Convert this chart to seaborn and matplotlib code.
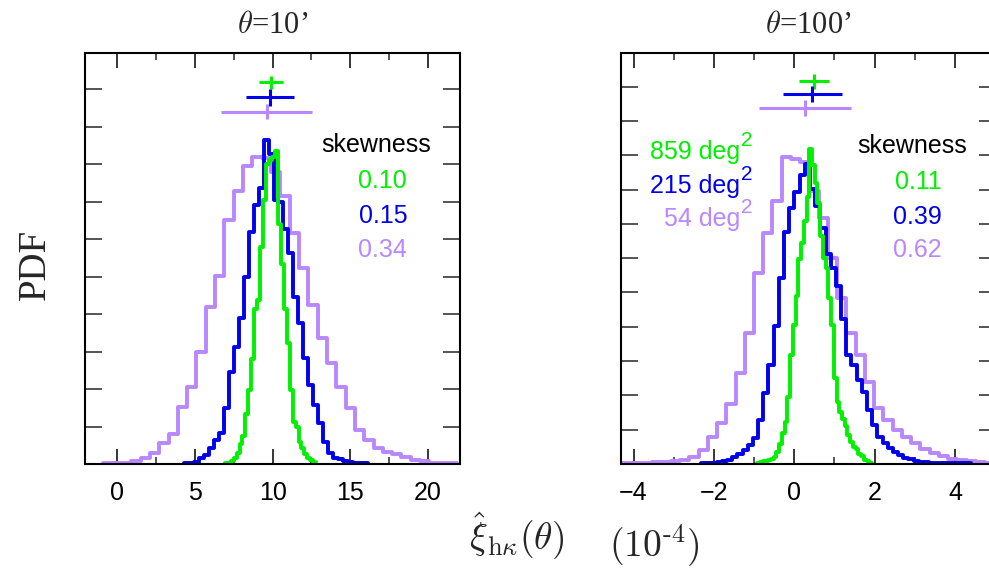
import numpy as np
import pandas as pd
import matplotlib
matplotlib.use("Agg")
import matplotlib.pyplot as plt
import seaborn as sns
from matplotlib.ticker import MultipleLocator

# ---------------------------------------------------------------------------
# Data: binned PDFs of the estimator for three survey areas, two angular scales
# ---------------------------------------------------------------------------
areas = ["859 deg", "215 deg", "54 deg"]
area_unit_power = "2"
area_colors = ["#00f000", "#0000eb", "#b987ff"]

titles = [r"$\theta$=10’", r"$\theta$=100’"]

# theta = 10 arcmin  (x in units of 1e-4)
pdf10_green_start, pdf10_green_width = 6.92, 0.19
pdf10_green = [0.004, 0.004, 0.008, 0.016, 0.029, 0.053, 0.075, 0.133, 0.197, 0.280,
               0.413, 0.437, 0.579, 0.704, 0.800, 0.811, 0.819, 0.835, 0.640, 0.533,
               0.413, 0.323, 0.197, 0.112, 0.099, 0.059, 0.043, 0.027, 0.016, 0.011,
               0.005]

pdf10_blue_start, pdf10_blue_width = 4.30, 0.32
pdf10_blue = [0.003, 0.004, 0.006, 0.015, 0.024, 0.042, 0.064, 0.082, 0.149, 0.246,
              0.313, 0.389, 0.499, 0.619, 0.691, 0.737, 0.864, 0.827, 0.704, 0.699,
              0.627, 0.562, 0.446, 0.376, 0.283, 0.211, 0.157, 0.109, 0.059, 0.030,
              0.017, 0.013, 0.007, 0.005, 0.003, 0.003, 0.002]

pdf10_purple_start, pdf10_purple_width = -0.90, 0.60
pdf10_purple = [0.003, 0.003, 0.004, 0.008, 0.017, 0.030, 0.055, 0.079, 0.153, 0.206,
                0.299, 0.419, 0.502, 0.651, 0.729, 0.795, 0.818, 0.815, 0.778, 0.715,
                0.615, 0.522, 0.424, 0.335, 0.269, 0.206, 0.149, 0.091, 0.064, 0.042,
                0.032, 0.027, 0.019, 0.011, 0.007, 0.003, 0.003, 0.003]

# theta = 100 arcmin
pdf100_green_start, pdf100_green_width = -0.92, 0.068
pdf100_green = [0.004, 0.006, 0.009, 0.010, 0.013, 0.015, 0.020, 0.035, 0.058, 0.090,
                0.122, 0.195, 0.317, 0.404, 0.491, 0.599, 0.645, 0.709, 0.779, 0.919,
                0.872, 0.820, 0.762, 0.666, 0.599, 0.570, 0.483, 0.404, 0.250, 0.180,
                0.151, 0.131, 0.110, 0.084, 0.064, 0.049, 0.044, 0.029, 0.023, 0.012,
                0.009, 0.004]

pdf100_blue_start, pdf100_blue_width = -2.319, 0.129
pdf100_blue = [0.002, 0.003, 0.004, 0.006, 0.009, 0.013, 0.020, 0.029, 0.041, 0.055,
               0.076, 0.128, 0.206, 0.288, 0.401, 0.541, 0.677, 0.747, 0.794, 0.843,
               0.875, 0.802, 0.753, 0.689, 0.613, 0.570, 0.520, 0.424, 0.317, 0.288,
               0.244, 0.209, 0.157, 0.113, 0.078, 0.061, 0.047, 0.035, 0.026, 0.017,
               0.014, 0.009, 0.007, 0.006, 0.004, 0.003, 0.003, 0.003, 0.002, 0.002,
               0.002, 0.002]

pdf100_purple_start, pdf100_purple_width = -4.453, 0.23
pdf100_purple = [0.003, 0.003, 0.003, 0.004, 0.006, 0.007, 0.010, 0.013, 0.020, 0.041,
                 0.078, 0.119, 0.174, 0.265, 0.381, 0.558, 0.672, 0.767, 0.894, 0.890,
                 0.880, 0.797, 0.718, 0.599, 0.483, 0.381, 0.317, 0.238, 0.163, 0.128,
                 0.099, 0.078, 0.061, 0.044, 0.032, 0.023, 0.015, 0.012, 0.009, 0.006,
                 0.004, 0.003]

# mean +/- scatter markers (x, xerr) and their heights on the PDF axis
mean10 = [9.92, 9.86, 9.64]
err10 = [0.77, 1.55, 2.93]
mark_y10 = [1.018, 0.978, 0.939]
mark_dy10 = [0.018, 0.023, 0.020]

mean100 = [0.49, 0.45, 0.27]
err100 = [0.38, 0.73, 1.14]
mark_y100 = [1.116, 1.078, 1.037]
mark_dy100 = [0.022, 0.024, 0.023]

skew10 = ["0.10", "0.15", "0.34"]
skew100 = ["0.11", "0.39", "0.62"]

# ---------------------------------------------------------------------------
sns.set_theme(style="ticks")
plt.rcParams["font.family"] = ["Liberation Sans", "DejaVu Sans"]
plt.rcParams["mathtext.fontset"] = "cm"
plt.rcParams["axes.unicode_minus"] = True

W, H = 989, 569
fig = plt.figure(figsize=(W / 100, H / 100), dpi=100)
fig.patch.set_facecolor("white")

ax1 = fig.add_axes([85 / W, 1 - 464 / H, 375 / W, 411 / H])
ax2 = fig.add_axes([620.7 / W, 1 - 464 / H, 375.3 / W, 411 / H])


def draw_pdf(ax, start, width, heights, color):
    heights = np.asarray(heights, dtype=float)
    edges = start + width * np.arange(len(heights) + 1)
    centers = 0.5 * (edges[:-1] + edges[1:])
    df = pd.DataFrame({"x": centers, "pdf": heights})
    sns.histplot(data=df, x="x", weights="pdf", bins=edges.tolist(),
                 element="step", fill=False, color=color, linewidth=2.8, ax=ax)


panels = [
    (ax1,
     [(pdf10_purple_start, pdf10_purple_width, pdf10_purple),
      (pdf10_blue_start, pdf10_blue_width, pdf10_blue),
      (pdf10_green_start, pdf10_green_width, pdf10_green)],
     mean10, err10, mark_y10, mark_dy10),
    (ax2,
     [(pdf100_purple_start, pdf100_purple_width, pdf100_purple),
      (pdf100_blue_start, pdf100_blue_width, pdf100_blue),
      (pdf100_green_start, pdf100_green_width, pdf100_green)],
     mean100, err100, mark_y100, mark_dy100),
]

for ax, hists, means, errs, ys, dys in panels:
    for (start, width, heights), color in zip(hists, area_colors[::-1]):
        draw_pdf(ax, start, width, heights, color)
    for m, e, y, dy, color in zip(means, errs, ys, dys, area_colors):
        ax.errorbar(m, y, xerr=e, yerr=dy, color=color, lw=2.2, capsize=0,
                    fmt="none")

ax1.set_xlim(-2.08, 22.07)
ax1.set_ylim(0, 1.096)
ax1.xaxis.set_major_locator(MultipleLocator(5))
ax1.xaxis.set_minor_locator(MultipleLocator(2.5))

ax2.set_xlim(-4.32, 5.02)
ax2.set_ylim(0, 1.198)
ax2.xaxis.set_major_locator(MultipleLocator(2))
ax2.xaxis.set_minor_locator(MultipleLocator(1))

for ax in (ax1, ax2):
    ax.set_xlabel("")
    ax.set_ylabel("")
    ax.yaxis.set_major_locator(MultipleLocator(0.1))
    ax.tick_params(axis="x", which="major", direction="in", length=11, width=1.1,
                   top=True, bottom=True, pad=12, labelsize=18, colors="black")
    ax.tick_params(axis="x", which="minor", direction="in", length=5, width=1.1,
                   top=True, bottom=True)
    ax.tick_params(axis="y", which="major", direction="in", length=12, width=1.1,
                   left=True, right=True, labelleft=False)
    for sp in ax.spines.values():
        sp.set_linewidth(1.5)
        sp.set_color("black")
    ax.set_facecolor("white")

# skewness annotations
ax1.text(20.18, 0.832, "skewness", ha="right", va="baseline", fontsize=18, color="black")
for s, y, c in zip(skew10, [0.736, 0.643, 0.552], area_colors):
    ax1.text(18.67, y, s, ha="right", va="baseline", fontsize=18, color=c)

ax2.text(4.29, 0.907, "skewness", ha="right", va="baseline", fontsize=18, color="black")
for s, y, c in zip(skew100, [0.802, 0.701, 0.602], area_colors):
    ax2.text(3.67, y, s, ha="right", va="baseline", fontsize=18, color=c)

# survey-area labels with a raised power on the unit
for a, y, c in zip(areas, [0.890, 0.791, 0.695], area_colors):
    ax2.text(-1.352, y, a, ha="right", va="baseline", fontsize=18, color=c)
    ax2.text(-1.327, y + 0.038, area_unit_power, ha="left", va="baseline",
             fontsize=15, color=c)

# titles and axis labels
fig.text(272.5 / W, 1 - 33 / H, titles[0], ha="center", va="baseline",
         fontsize=22, family="Liberation Serif")
fig.text(808 / W, 1 - 33 / H, titles[1], ha="center", va="baseline",
         fontsize=22, family="Liberation Serif")
fig.text(35 / W, 1 - 264 / H, "PDF", rotation=90, ha="center", va="center",
         fontsize=28, family="Liberation Serif")
fig.text(517 / W, 1 - 550 / H, r"$\hat{\xi}_{\mathrm{h}\kappa}(\theta)$",
         ha="center", va="baseline", fontsize=27)
fig.text(654 / W, 1 - 557 / H, r"$(10^{\text{-}4})$",
         ha="center", va="baseline", fontsize=27)

fig.savefig("out.png", dpi=100, facecolor="white")
